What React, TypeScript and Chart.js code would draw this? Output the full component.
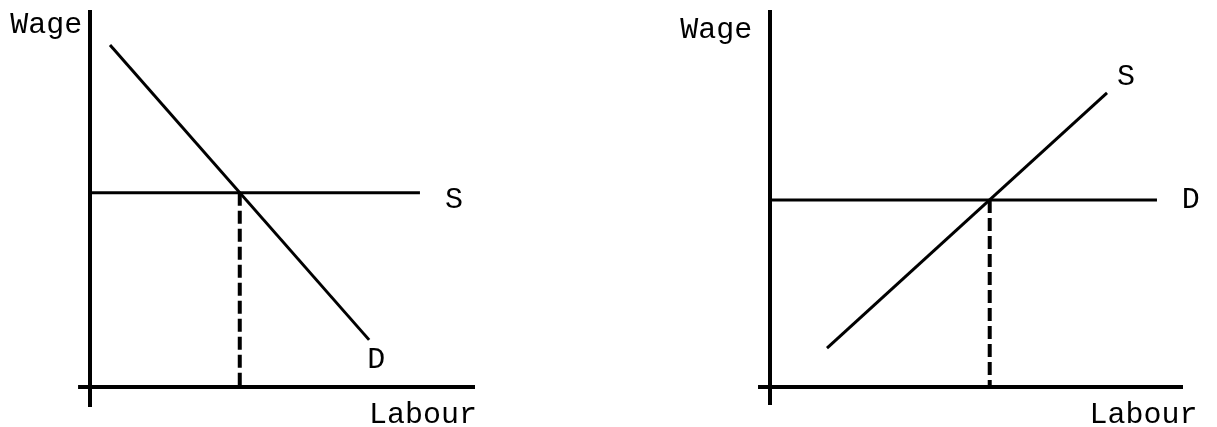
import React, { useEffect, useRef } from "react";
import { Chart, registerables } from "chart.js";

Chart.register(...registerables);

// ---------- Left panel data (Labour units 0..10, Wage units 0..10) ----------
const leftAxisY = [{ x: 0, y: 10 }, { x: 0, y: -0.53 }];
const leftAxisX = [{ x: -0.31, y: 0 }, { x: 10, y: 0 }];
const leftDemand = [{ x: 0.52, y: 9.07 }, { x: 7.25, y: 1.25 }];
const leftSupply = [{ x: 0, y: 5.15 }, { x: 8.57, y: 5.15 }];
const leftEquilibrium = [{ x: 3.89, y: 5.15 }, { x: 3.89, y: 0 }];
const leftLabels = [
  { text: "Wage", x: -0.2, y: 9.6, align: "right" },
  { text: "S", x: 9.22, y: 4.96, align: "left" },
  { text: "D", x: 7.2, y: 0.72, align: "left" },
  { text: "Labour", x: 10.05, y: -0.74, align: "right" },
];

// ---------- Right panel data ----------
const rightAxisY = [{ x: 0, y: 10 }, { x: 0, y: -0.48 }];
const rightAxisX = [{ x: -0.29, y: 0 }, { x: 10, y: 0 }];
const rightSupply = [{ x: 1.38, y: 1.03 }, { x: 8.16, y: 7.8 }];
const rightDemand = [{ x: 0, y: 4.96 }, { x: 9.37, y: 4.96 }];
const rightEquilibrium = [{ x: 5.32, y: 4.96 }, { x: 5.32, y: 0 }];
const rightLabels = [
  { text: "Wage", x: -0.43, y: 9.47, align: "right" },
  { text: "S", x: 8.4, y: 8.23, align: "left" },
  { text: "D", x: 9.97, y: 4.96, align: "left" },
  { text: "Labour", x: 10.35, y: -0.74, align: "right" },
];

const FONT = '30px "Liberation Mono", "DejaVu Sans Mono", monospace';

type Pt = { x: number; y: number };
type Label = { text: string; x: number; y: number; align: string };

function line(data: Pt[], width = 3, dash: number[] = []) {
  return {
    data,
    showLine: true,
    borderColor: "#000",
    borderWidth: width,
    borderDash: dash,
    pointRadius: 0,
    pointHoverRadius: 0,
    fill: false,
    clip: false as any,
    tension: 0,
  };
}

function Panel(props: {
  left: number;
  width: number;
  originX: number;
  originY: number;
  kx: number;
  ky: number;
  series: any[];
  labels: Label[];
}) {
  const ref = useRef<HTMLCanvasElement | null>(null);
  useEffect(() => {
    if (!ref.current) return;
    const H = 427;
    const ox = props.originX - props.left;
    const labelPlugin = {
      id: "labels",
      afterDatasetsDraw(chart: any) {
        const ctx = chart.ctx;
        const xs = chart.scales.x;
        const ys = chart.scales.y;
        ctx.save();
        ctx.fillStyle = "#000";
        ctx.font = FONT;
        ctx.textBaseline = "middle";
        props.labels.forEach((l) => {
          ctx.textAlign = l.align === "left" ? "left" : "right";
          ctx.fillText(l.text, xs.getPixelForValue(l.x), ys.getPixelForValue(l.y));
        });
        ctx.restore();
      },
    };
    const chart = new Chart(ref.current, {
      type: "scatter",
      data: { datasets: props.series },
      options: {
        animation: false,
        responsive: false,
        layout: { padding: 0 },
        plugins: { legend: { display: false }, tooltip: { enabled: false } },
        events: [],
        scales: {
          x: {
            type: "linear",
            display: false,
            min: -ox / props.kx,
            max: (props.width - ox) / props.kx,
          },
          y: {
            type: "linear",
            display: false,
            min: -(H - props.originY) / props.ky,
            max: props.originY / props.ky,
          },
        },
      },
      plugins: [labelPlugin],
    });
    return () => chart.destroy();
  }, []);
  return (
    <canvas
      ref={ref}
      width={props.width}
      height={427}
      style={{ position: "absolute", left: props.left, top: 0, width: props.width, height: 427 }}
    />
  );
}

export default function App() {
  return (
    <div
      style={{
        position: "fixed",
        left: 0,
        top: 0,
        width: 1217,
        height: 427,
        background: "#fff",
        overflow: "hidden",
      }}
    >
      <Panel
        left={0}
        width={600}
        originX={90}
        originY={387}
        kx={38.5}
        ky={37.7}
        series={[
          line(leftAxisY, 4),
          line(leftAxisX, 4),
          line(leftDemand, 3),
          line(leftSupply, 3),
          line(leftEquilibrium, 4, [13, 5]),
        ]}
        labels={leftLabels}
      />
      <Panel
        left={600}
        width={617}
        originX={770}
        originY={387}
        kx={41.3}
        ky={37.7}
        series={[
          line(rightAxisY, 4),
          line(rightAxisX, 4),
          line(rightSupply, 3),
          line(rightDemand, 3),
          line(rightEquilibrium, 4, [13, 5]),
        ]}
        labels={rightLabels}
      />
    </div>
  );
}
